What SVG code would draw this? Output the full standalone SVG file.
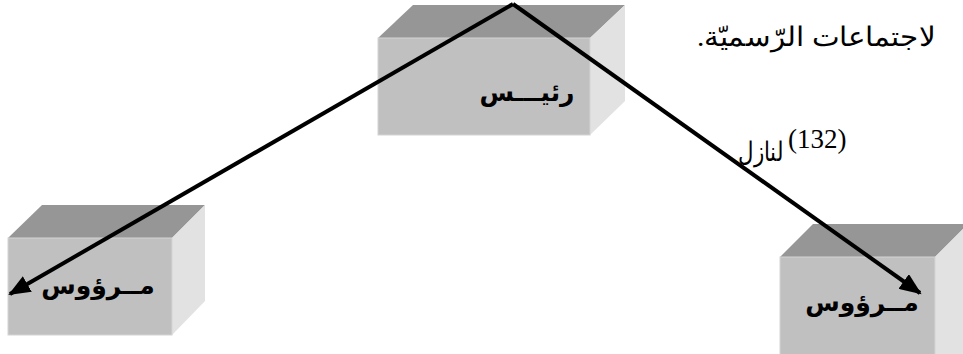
<svg xmlns="http://www.w3.org/2000/svg" width="963" height="354" viewBox="0 0 963 354">
<style>
.front{fill:#c0c0c0;stroke:#d4d4d4;stroke-width:1}
.top{fill:#969696}
.side{fill:#e2e2e2}
.lbl{font-family:"DejaVu Sans","Liberation Sans",sans-serif;font-weight:bold;font-size:25px;fill:#000;text-anchor:middle}
.body{font-family:"Liberation Serif","DejaVu Serif",serif;font-size:27px;fill:#000}
.conn{stroke:#000;stroke-width:4;fill:none}
</style>
<defs>
<marker id="arr" markerUnits="userSpaceOnUse" markerWidth="24" markerHeight="18" refX="20" refY="9" orient="auto">
<path d="M0,0 L22,9 L0,18 Z" fill="#000"/>
</marker>
</defs>
<rect width="963" height="354" fill="#fff"/>
<text class="body" x="935" y="46" direction="rtl" unicode-bidi="embed" text-anchor="start" textLength="238" lengthAdjust="spacingAndGlyphs">لاجتماعات الرّسميّة.</text>
<text class="body" x="783" y="161" direction="rtl" unicode-bidi="embed" text-anchor="start" textLength="45" lengthAdjust="spacingAndGlyphs">لنازل</text>
<text class="body" x="788" y="148" font-size="17">(132)</text>
<g id="boss">
<polygon class="top" points="378,38 413,5 625,5 590,38"/>
<polygon class="side" points="590,38 625,5 625,101 590,135"/>
<rect class="front" x="378" y="38" width="212" height="97"/>
<text class="lbl" x="527" y="101">رئيـــس</text>
</g>
<g id="sub-left">
<polygon class="top" points="8,238 42,205 205,205 172,238"/>
<polygon class="side" points="172,238 205,205 205,301 172,335"/>
<rect class="front" x="8" y="238" width="164" height="97"/>
<text class="lbl" x="98" y="294">مــرؤوس</text>
</g>
<g id="sub-right">
<polygon class="top" points="780,257 813,224 968,224 935,257"/>
<polygon class="side" points="935,257 968,224 968,354 935,354"/>
<rect class="front" x="780" y="257" width="155" height="100"/>
<text class="lbl" x="862" y="311">مــرؤوس</text>
</g>
<g id="connectors">
<path class="conn" d="M513,4 L10,294" marker-end="url(#arr)"/>
<path class="conn" d="M513,4 L920,293" marker-end="url(#arr)"/>
</g>
</svg>
